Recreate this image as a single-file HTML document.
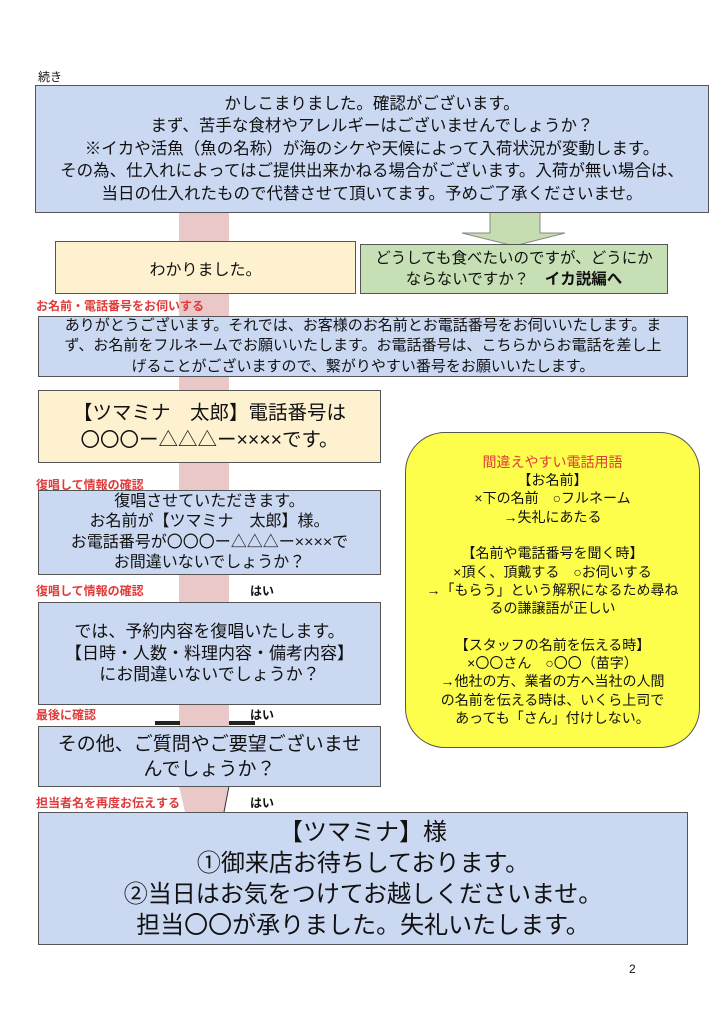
<!DOCTYPE html>
<html><head><meta charset="utf-8"><style>
body{margin:0;width:724px;height:1024px;background:#fff;position:relative;font-family:"Liberation Sans","Noto Sans CJK JP",sans-serif;color:#111;overflow:hidden}
.a{position:absolute}
.box{position:absolute;box-sizing:border-box;border:1.5px solid #555;display:flex;align-items:center;justify-content:center;text-align:center;flex-direction:column;white-space:nowrap}
.blue{background:#cad8f2}
.yel{background:#fdf1d0}
.red{position:absolute;color:#e03a3a;font-size:12px;font-weight:bold;white-space:nowrap}
.hai{position:absolute;font-size:12px;font-weight:bold;left:250px}
</style></head><body>
<div class="a" style="left:38px;top:68px;font-size:12px">続き</div>
<div class="a" style="left:179px;top:212px;width:50px;height:576px;background:#eac8c8"></div>
<svg class="a" style="left:0;top:0" width="724" height="1024">
<polygon points="179,786 229,786 224,812 185,812" fill="#eac8c8"/>
<line x1="229" y1="786" x2="224" y2="812" stroke="#333" stroke-width="1"/>
<polygon points="490,212 540,212 540,233 565,233 514,246 462,233 490,233" fill="#c5ddb0" stroke="#888" stroke-width="1"/>
<rect x="155" y="721" width="25" height="4" fill="#222"/>
<rect x="229" y="721" width="26" height="4" fill="#222"/>
</svg>
<div class="box blue" style="left:35px;top:85px;width:674px;height:128px;font-size:16.5px;line-height:22.5px">かしこまりました。確認がございます。<br>まず、苦手な食材やアレルギーはございませんでしょうか？<br>※イカや活魚（魚の名称）が海のシケや天候によって入荷状況が変動します。<br>その為、仕入れによってはご提供出来かねる場合がございます。入荷が無い場合は、<br>当日の仕入れたもので代替させて頂いてます。予めご了承くださいませ。</div>
<div class="box yel" style="left:55px;top:241px;width:301px;height:53px;font-size:16px">わかりました。</div>
<div class="box" style="left:360px;top:244px;width:308px;height:50px;background:#c6dfb4;font-size:15.5px;line-height:21px">どうしても食べたいのですが、どうにか<br><span>ならないですか？　<b>イカ説編へ</b></span></div>
<div class="red" style="left:36px;top:297px">お名前・電話番号をお伺いする</div>
<div class="box blue" style="left:38px;top:316px;width:650px;height:61px;font-size:15px;line-height:20.5px">ありがとうございます。それでは、お客様のお名前とお電話番号をお伺いいたします。ま<br>ず、お名前をフルネームでお願いいたします。お電話番号は、こちらからお電話を差し上<br>げることがございますので、繋がりやすい番号をお願いいたします。</div>
<div class="box yel" style="left:38px;top:390px;width:343px;height:73px;font-size:19.5px;line-height:27px">【ツマミナ　太郎】電話番号は<br>〇〇〇ー△△△ー××××です。</div>
<div class="red" style="left:36px;top:476px">復唱して情報の確認</div>
<div class="box blue" style="left:38px;top:490px;width:343px;height:85px;font-size:16px;line-height:20.5px">復唱させていただきます。<br>お名前が【ツマミナ　太郎】様。<br>お電話番号が〇〇〇ー△△△ー××××で<br>お間違いないでしょうか？</div>
<div class="red" style="left:36px;top:582px">復唱して情報の確認</div>
<div class="hai" style="top:582px">はい</div>
<div class="box blue" style="left:38px;top:602px;width:343px;height:103px;font-size:17px;line-height:21.5px">では、予約内容を復唱いたします。<br>【日時・人数・料理内容・備考内容】<br>にお間違いないでしょうか？</div>
<div class="red" style="left:36px;top:706px">最後に確認</div>
<div class="hai" style="top:706px">はい</div>
<div class="box blue" style="left:38px;top:726px;width:343px;height:61px;font-size:19px;line-height:25px">その他、ご質問やご要望ございませ<br>んでしょうか？</div>
<div class="red" style="left:36px;top:794px">担当者名を再度お伝えする</div>
<div class="hai" style="top:794px">はい</div>
<div class="box blue" style="left:38px;top:812px;width:650px;height:133px;font-size:24px;line-height:31px">【ツマミナ】様<br>①御来店お待ちしております。<br>②当日はお気をつけてお越しくださいませ。<br>担当〇〇が承りました。失礼いたします。</div>
<div class="box" style="left:405px;top:432px;width:295px;height:316px;background:#fdfd4c;border-radius:40px;font-size:14px;line-height:18.3px">
<span style="color:#e03a3a">間違えやすい電話用語</span>【お名前】<br>×下の名前　○フルネーム<br>→失礼にあたる<br><br>【名前や電話番号を聞く時】<br>×頂く、頂戴する　○お伺いする<br>→「もらう」という解釈になるため尋ね<br>るの謙譲語が正しい<br><br>【スタッフの名前を伝える時】<br>×〇〇さん　○〇〇（苗字）<br>→他社の方、業者の方へ当社の人間<br>の名前を伝える時は、いくら上司で<br>あっても「さん」付けしない。</div>
<div class="a" style="left:629px;top:962px;font-size:12px">2</div>
</body></html>
